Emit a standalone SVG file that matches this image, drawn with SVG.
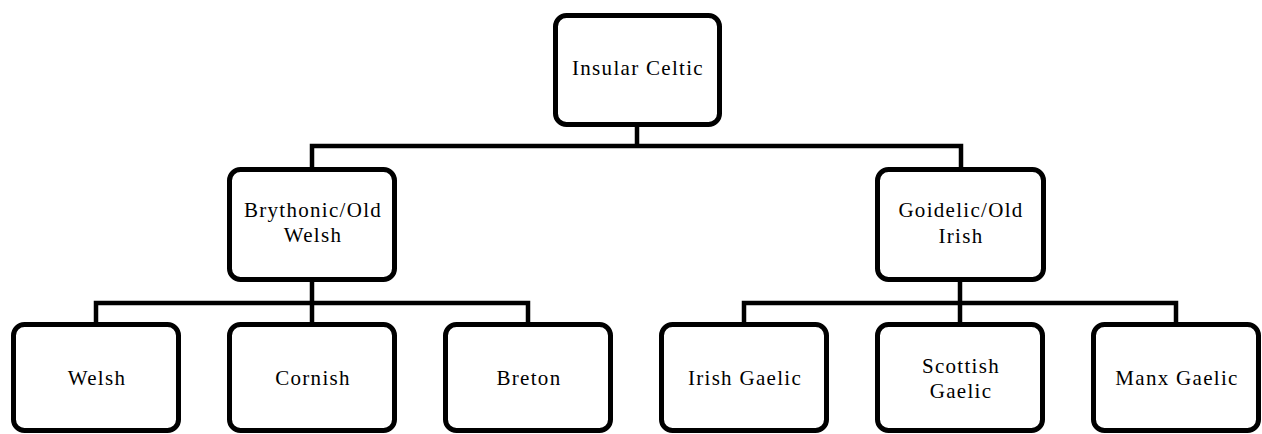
<svg xmlns="http://www.w3.org/2000/svg" width="1262" height="434" viewBox="0 0 1262 434">
<style>
.box{fill:#fff;stroke:#000;stroke-width:5}
.lbl{font-family:"Liberation Serif","Times New Roman",serif;font-size:21px;letter-spacing:1.3px;text-anchor:middle;fill:#000}
.con{fill:none;stroke:#000;stroke-width:4.5;stroke-linejoin:miter}
</style>
<rect width="1262" height="434" fill="#fff"/>
<g id="connectors">
<path class="con" d="M637 126V146M312 167V146H961V167"/>
<path class="con" d="M312 281V303M96 323V303H528V323M312 303V323"/>
<path class="con" d="M960 281V303M744 323V303H1176V323M960 303V323"/>
</g>
<g id="insular"><rect class="box" x="555.5" y="15.5" width="164" height="109" rx="11"/><text class="lbl" x="638" y="75">Insular Celtic</text></g>
<g id="brythonic"><rect class="box" x="229.5" y="169.5" width="165" height="110" rx="11"/><text class="lbl" x="313" y="217">Brythonic/Old</text><text class="lbl" x="313" y="242">Welsh</text></g>
<g id="goidelic"><rect class="box" x="877.5" y="169.5" width="166" height="110" rx="11"/><text class="lbl" x="961" y="217">Goidelic/Old</text><text class="lbl" x="961" y="243">Irish</text></g>
<g id="welsh"><rect class="box" x="13.5" y="324.5" width="165" height="106" rx="11"/><text class="lbl" x="97" y="385">Welsh</text></g>
<g id="cornish"><rect class="box" x="229.5" y="324.5" width="165" height="106" rx="11"/><text class="lbl" x="313" y="385">Cornish</text></g>
<g id="breton"><rect class="box" x="445.5" y="324.5" width="165" height="106" rx="11"/><text class="lbl" x="529" y="385">Breton</text></g>
<g id="irish-gaelic"><rect class="box" x="661.5" y="324.5" width="165" height="106" rx="11"/><text class="lbl" x="745" y="385">Irish Gaelic</text></g>
<g id="scottish-gaelic"><rect class="box" x="877.5" y="324.5" width="165" height="106" rx="11"/><text class="lbl" x="961" y="373">Scottish</text><text class="lbl" x="961" y="398">Gaelic</text></g>
<g id="manx-gaelic"><rect class="box" x="1093.5" y="324.5" width="165" height="106" rx="11"/><text class="lbl" x="1177" y="385">Manx Gaelic</text></g>
</svg>
